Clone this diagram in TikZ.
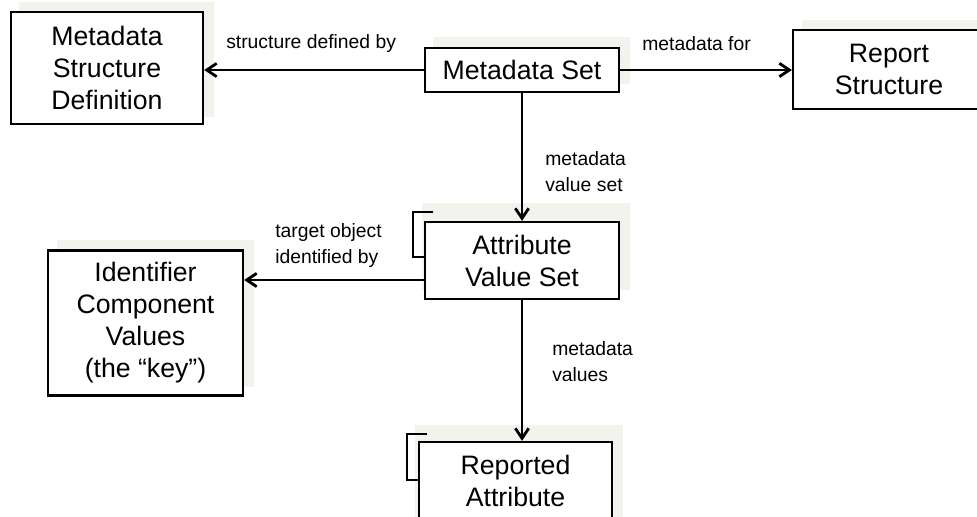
\documentclass[tikz,border=0pt]{standalone}
\usepackage{fontspec}
\setmainfont{Liberation Sans}
\usetikzlibrary{arrows.meta,calc}
\definecolor{shadowc}{RGB}{243,242,237}
\begin{document}
\begin{tikzpicture}[x=0.75pt,y=-0.75pt,
  box/.style={draw, line width=1.7pt, fill=white, align=center, inner sep=0pt,
    font=\fontsize{20}{24}\selectfont},
  lbl/.style={align=left, inner sep=0pt, font=\fontsize{14.5}{19.5}\selectfont},
  conn/.style={line width=2.1pt, -{Straight Barb[length=7.5pt,width=10pt]}},
  bracket/.style={line width=1.6pt},
  shade/.style={fill=shadowc}]
\clip (0,0) rectangle (977,517);
\fill[white] (0,0) rectangle (977,517);
% shadows
\fill[shade] (19,2) rectangle (214,117);
\fill[shade] (433,37) rectangle (630,84);
\fill[shade] (802,20) rectangle (977,100);
\fill[shade] (422,203) rectangle (630,290);
\fill[shade] (57,240) rectangle (254,387);
\fill[shade] (415,425) rectangle (623,530);
% brackets
\draw[bracket] (433,212) -- (413,212) -- (413,257) -- (425,257);
\draw[bracket] (427,434) -- (407,434) -- (407,480) -- (419,480);
% boxes
\node[box, minimum width=144pt, minimum height=84pt] (msd) at (107,68) {Metadata\\Structure\\Definition};
\node[box, minimum width=145.5pt, minimum height=33pt] (ms) at (522,70) {Metadata Set};
\node[box, minimum width=144pt, minimum height=59.25pt] (rs) at (889,69.5) {Report\\Structure};
\node[box, minimum width=145.5pt, minimum height=57.75pt] (avs) at (522,260.5) {Attribute\\Value Set};
\node[box, minimum width=146.25pt, minimum height=108.75pt] (idc) at (145.5,323) {Identifier\\Component\\Values\\(the “key”)};
\node[box, minimum width=144.75pt, minimum height=58.5pt] (ra) at (515.5,481) {Reported\\Attribute};
% connectors
\coordinate (avsw) at ($(avs.west)+(0,19.5)$);
\draw[conn] (ms.west) -- (ms.west -| msd.east);
\draw[conn] (ms.east) -- (ms.east -| rs.west);
\draw[conn] (ms.south) -- (avs.north);
\draw[conn] (avsw) -- (avsw -| idc.east);
\draw[conn] (avs.south) -- (avs.south |- ra.north);
% labels
\node[lbl, anchor=west] (l1) at (226,44) {structure defined by};
\node[lbl, anchor=west] (l2) at (642,44) {metadata for};
\node[lbl, anchor=west] (l3) at (545,172) {metadata\\value set};
\node[lbl, anchor=west] (l4) at (275,245) {target object\\identified by};
\node[lbl, anchor=west] (l5) at (552,362) {metadata\\values};
\end{tikzpicture}
\end{document}
